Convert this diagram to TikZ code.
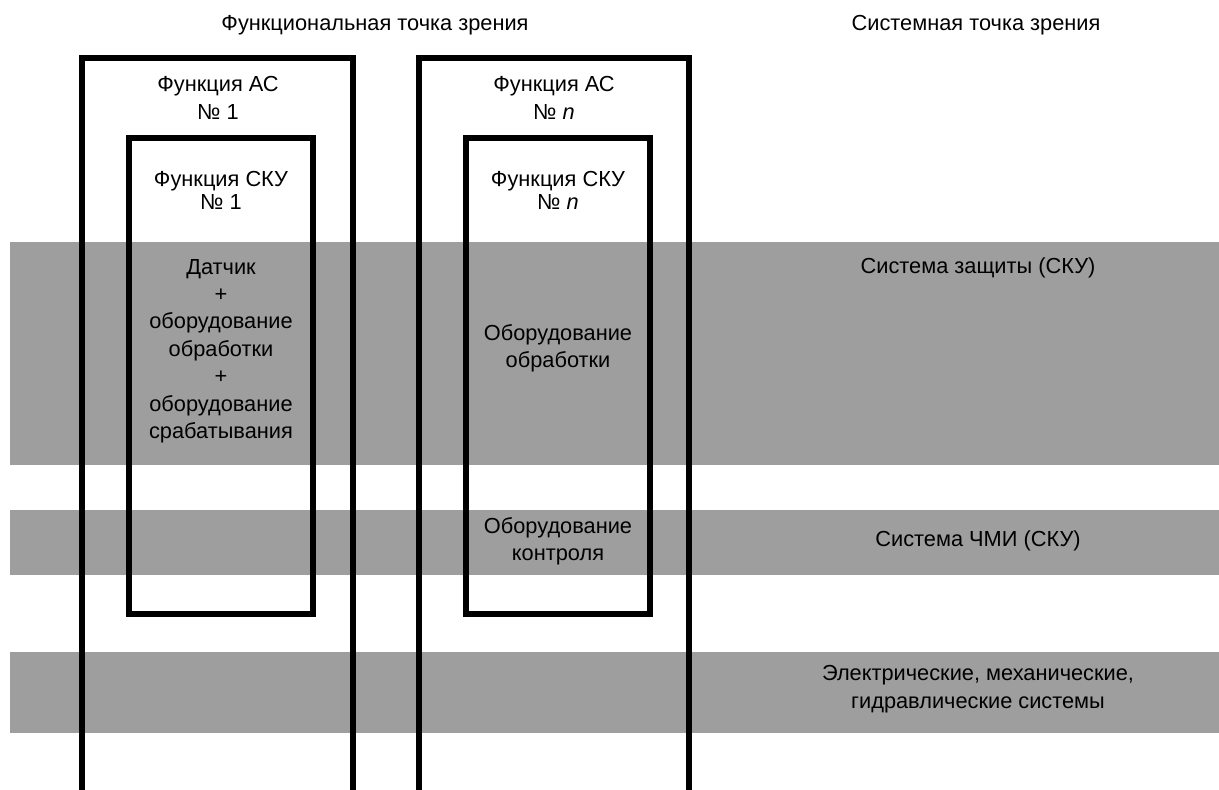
\documentclass[tikz,border=0pt]{standalone}
\usepackage{fontspec}
\setmainfont{Liberation Sans}
\begin{document}
\begin{tikzpicture}
  [x=0.02cm, y=-0.02cm,
   box/.style={line width=3.1pt},
   band/.style={fill=black!38},
   lbl/.style={align=center, font=\fontsize{12.4}{15.6}\selectfont},
   tight/.style={align=center, font=\fontsize{12.4}{13.2}\selectfont}]
  \useasboundingbox (0,0) rectangle (1219,790);
  \clip (0,0) rectangle (1219,790);
  % system bands
  \fill[band] (10,242) rectangle (1219,465);
  \fill[band] (10,510) rectangle (1219,575);
  \fill[band] (10,652) rectangle (1219,733);
  % function boxes
  \draw[box] (82,800) -- (82,58) -- (353,58) -- (353,800);
  \draw[box] (419,800) -- (419,58) -- (689,58) -- (689,800);
  \draw[box] (129,138) rectangle (313,614);
  \draw[box] (466,138) rectangle (650,614);
  % headings
  \node[lbl] (funcview) at (375,25) {Функциональная точка зрения};
  \node[lbl] (sysview) at (976,25) {Системная точка зрения};
  % left column
  \node[lbl] (as1) at (218,98) {Функция АС\\№ 1};
  \node[tight] (sku1) at (221,190) {Функция СКУ\\№ 1};
  \node[lbl] (chain1) at (221,351) {Датчик\\+\\оборудование\\обработки\\+\\оборудование\\срабатывания};
  % right column
  \node[lbl] (asn) at (554,98) {Функция АС\\№ \textit{n}};
  \node[tight] (skun) at (558,190) {Функция СКУ\\№ \textit{n}};
  \node[lbl] (procn) at (558,348) {Оборудование\\обработки};
  \node[lbl] (ctrln) at (558,541) {Оборудование\\контроля};
  % systems
  \node[lbl] (protsys) at (978,268) {Система защиты (СКУ)};
  \node[lbl] (hmisys) at (978,541) {Система ЧМИ (СКУ)};
  \node[lbl] (elsys) at (978,689) {Электрические, механические,\\гидравлические системы};
\end{tikzpicture}
\end{document}
